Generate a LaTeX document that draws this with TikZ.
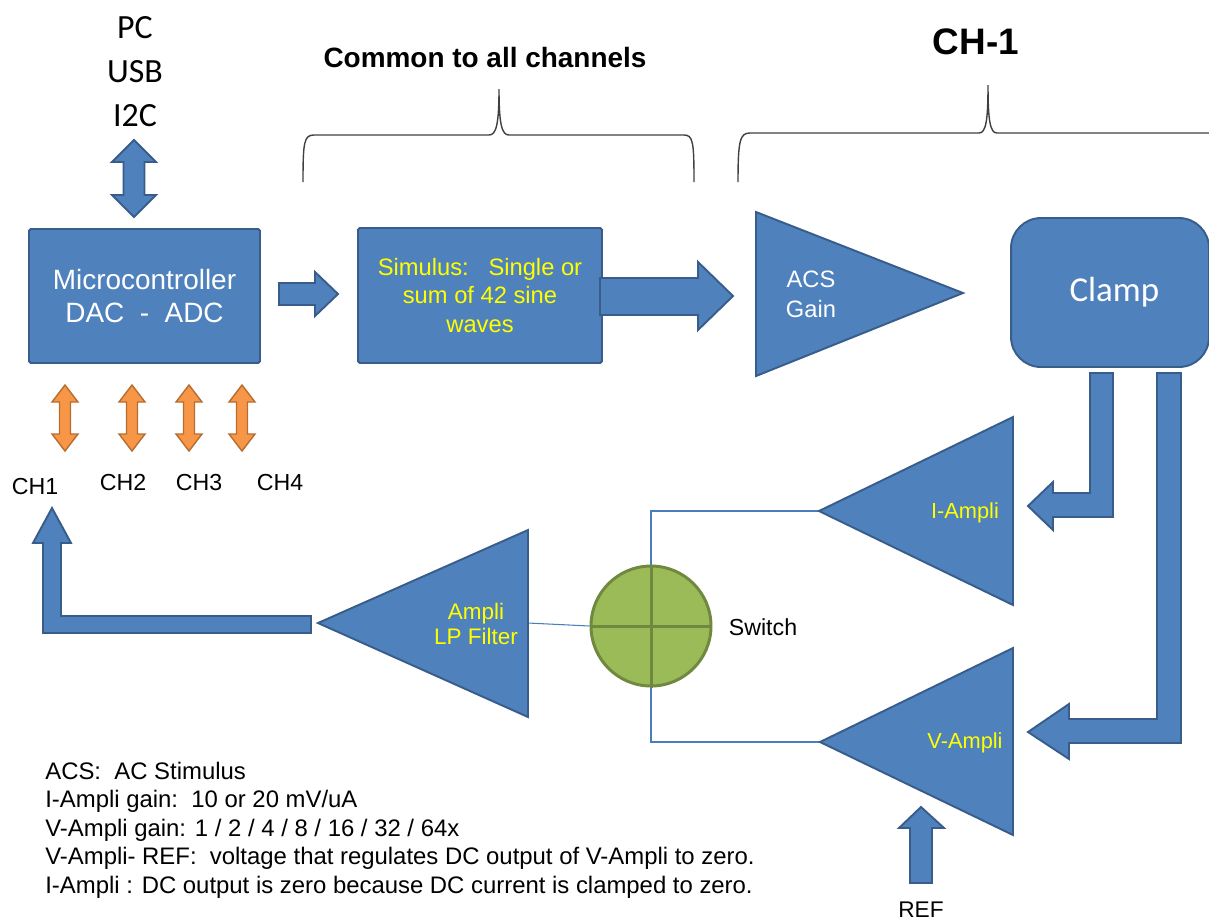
\documentclass[tikz,border=0pt]{standalone}
\usepackage{fontspec}
\setmainfont{Liberation Sans}
\newfontfamily\calibri{Carlito}
\usetikzlibrary{positioning}

\definecolor{boxblue}{HTML}{4F81BD}
\definecolor{boxedge}{HTML}{385D8A}
\definecolor{chorange}{HTML}{F79646}
\definecolor{chedge}{HTML}{B66D31}
\definecolor{swgreen}{HTML}{9BBB59}
\definecolor{swedge}{HTML}{71893F}
\definecolor{wireblue}{HTML}{4A7EBB}
\definecolor{txtyellow}{HTML}{FFFF00}

\tikzstyle{block} = [align=center,draw=boxedge,fill=boxblue,line width=1.1pt,rounded corners=1pt,text=white,inner sep=0pt]
\tikzstyle{blockarrow} = [draw=boxedge,fill=boxblue,line width=1.1pt]
\tikzstyle{amp} = [draw=boxedge,fill=boxblue,line width=1.1pt]
\tikzstyle{chanarrow} = [draw=chedge,fill=chorange,line width=0.8pt]
\tikzstyle{wire} = [draw=wireblue,line width=0.6pt]
\tikzstyle{brace} = [draw=black!75,line width=0.8pt]
\tikzstyle{lbl} = [inner sep=0pt,font=\fontsize{13.2}{15}\selectfont]
\tikzstyle{amplbl} = [lbl,align=center,text=txtyellow,font=\fontsize{12.4}{14.7}\selectfont]

\begin{document}
\begin{tikzpicture}[x=0.02cm,y=-0.02cm]
	\useasboundingbox (0,0) rectangle (1209,921);
	% titles
	\node (host) [lbl,align=center,font=\calibri\fontsize{19.3}{25}\selectfont] at (135,72) {PC\\USB\\I2C};
	\node (common) [lbl,font=\bfseries\fontsize{15.9}{18}\selectfont] at (485,58) {Common to all channels};
	\node (chone) [lbl,font=\bfseries\fontsize{21}{24}\selectfont] at (976,42) {CH-1};
	\draw [brace] (303,182) .. controls (303,142) and (304,135) .. (314,135) -- (489,135) .. controls (496,135) and (499,125) .. (499,89) .. controls (499,125) and (502,135) .. (509,135) -- (684,135) .. controls (693,135) and (694,142) .. (694,182);
	\draw [brace] (738,182) .. controls (738,140) and (740,133) .. (750,133) -- (979,133) .. controls (986,133) and (988,120) .. (988,85) .. controls (988,120) and (990,133) .. (997,133) -- (1215,133);
	% common part
	\node (mcu) [block,minimum width=4.62cm,minimum height=2.68cm,font=\fontsize{15.9}{18.7}\selectfont] at (144.5,296) {Microcontroller\\DAC\ \ -\ \ ADC};
	\node (stim) [block,text=txtyellow,minimum width=4.88cm,minimum height=2.7cm,font=\fontsize{13.5}{16.4}\selectfont] at (480,295.5) {Simulus:\ \ \ Single or\\sum of 42 sine\\waves};
	\filldraw [blockarrow] (134,140) -- (156,162) -- (144.5,162) -- (144.5,195) -- (156,195) -- (134,217) -- (112,195) -- (123.5,195) -- (123.5,162) -- (112,162) -- cycle;
	\filldraw [blockarrow] (279,283) -- (315,283) -- (315,272) -- (338,294) -- (315,316) -- (315,305) -- (279,305) -- cycle;
	\filldraw [blockarrow] (600,278) -- (698,278) -- (698,262) -- (733,296) -- (698,330) -- (698,315) -- (600,315) -- cycle;
	\foreach \x in {65,132,189,242}
		\filldraw [chanarrow] (\x,385) -- ({\x+13},402) -- ({\x+5.5},402) -- ({\x+5.5},434) -- ({\x+13},434) -- (\x,451) -- ({\x-13},434) -- ({\x-5.5},434) -- ({\x-5.5},402) -- ({\x-13},402) -- cycle;
	\foreach \name/\x/\y in {CH1/35/486,CH2/123/482,CH3/199/482,CH4/280/482}
		\node (\name) [lbl] at (\x,\y) {\name};
	% channel 1
	\draw [amp] (756,212) -- (963,293) -- (756,376) -- cycle;
	\node (acs) [lbl,align=center,text=white,font=\fontsize{13.5}{17}\selectfont] at (811,294) {ACS\\Gain};
	\node (clamp) [block,rounded corners=0.6cm,minimum width=3.96cm,minimum height=2.98cm,font=\calibri\fontsize{19.9}{22}\selectfont] at (1110,292.5) {\hspace*{5pt}Clamp};
	\filldraw [blockarrow] (1090,373) -- (1113,373) -- (1113,517) -- (1053,517) -- (1053,530) -- (1028,506) -- (1053,482) -- (1053,493) -- (1090,493) -- cycle;
	\filldraw [blockarrow] (1157,373) -- (1181,373) -- (1181,743) -- (1069,743) -- (1069,759) -- (1028,732) -- (1069,704) -- (1069,719) -- (1157,719) -- cycle;
	\coordinate (iain) at (819,511);
	\coordinate (vain) at (820,742);
	\coordinate (lpfout) at (528,623);
	\node (switch) [circle,draw=swedge,fill=swgreen,line width=1.7pt,minimum size=2.4cm,inner sep=0pt] at (651,626) {};
	\draw [swedge,line width=1.7pt] (switch.north) -- (switch.south) (switch.west) -- (switch.east);
	\node (swlbl) [lbl] at (763,627) {Switch};
	\draw [wire] (switch.north) |- (iain);
	\draw [wire] (switch.south) |- (vain);
	\draw [wire] (lpfout) -- (switch.west);
	\draw [amp] (1013,417) -- (iain) -- (1013,605) -- cycle;
	\node (iampli) [amplbl] at (965,513) {I-Ampli};
	\draw [amp] (1013,648) -- (vain) -- (1013,835) -- cycle;
	\node (vampli) [amplbl] at (965,743) {V-Ampli};
	\filldraw [blockarrow] (910,883) -- (910,828) -- (899,828) -- (921,807) -- (944,828) -- (932,828) -- (932,883) -- cycle;
	\node (ref) [lbl,font=\fontsize{12.9}{15}\selectfont] at (921,910) {REF};
	\draw [amp] (528,530) -- (318,623) -- (528,717) -- cycle;
	\node (lpf) [amplbl,font=\fontsize{12.8}{14.7}\selectfont] at (476,624) {Ampli\\LP Filter};
	\filldraw [blockarrow] (311,616) -- (61,616) -- (61,543) -- (71,543) -- (52,508) -- (33,543) -- (43,543) -- (43,633) -- (311,633) -- cycle;
	% notes
	\node (notes) [lbl,anchor=west,align=left,font=\fontsize{13.6}{16.2}\selectfont] at (45,830) {ACS:\ \ AC Stimulus\\I-Ampli gain:\ \ 10 or 20 mV/uA\\V-Ampli gain: 1 / 2 / 4 / 8 / 16 / 32 / 64x\\V-Ampli- REF:\ \ voltage that regulates DC output of V-Ampli to zero.\\I-Ampli : DC output is zero because DC current is clamped to zero.};
\end{tikzpicture}
\end{document}
